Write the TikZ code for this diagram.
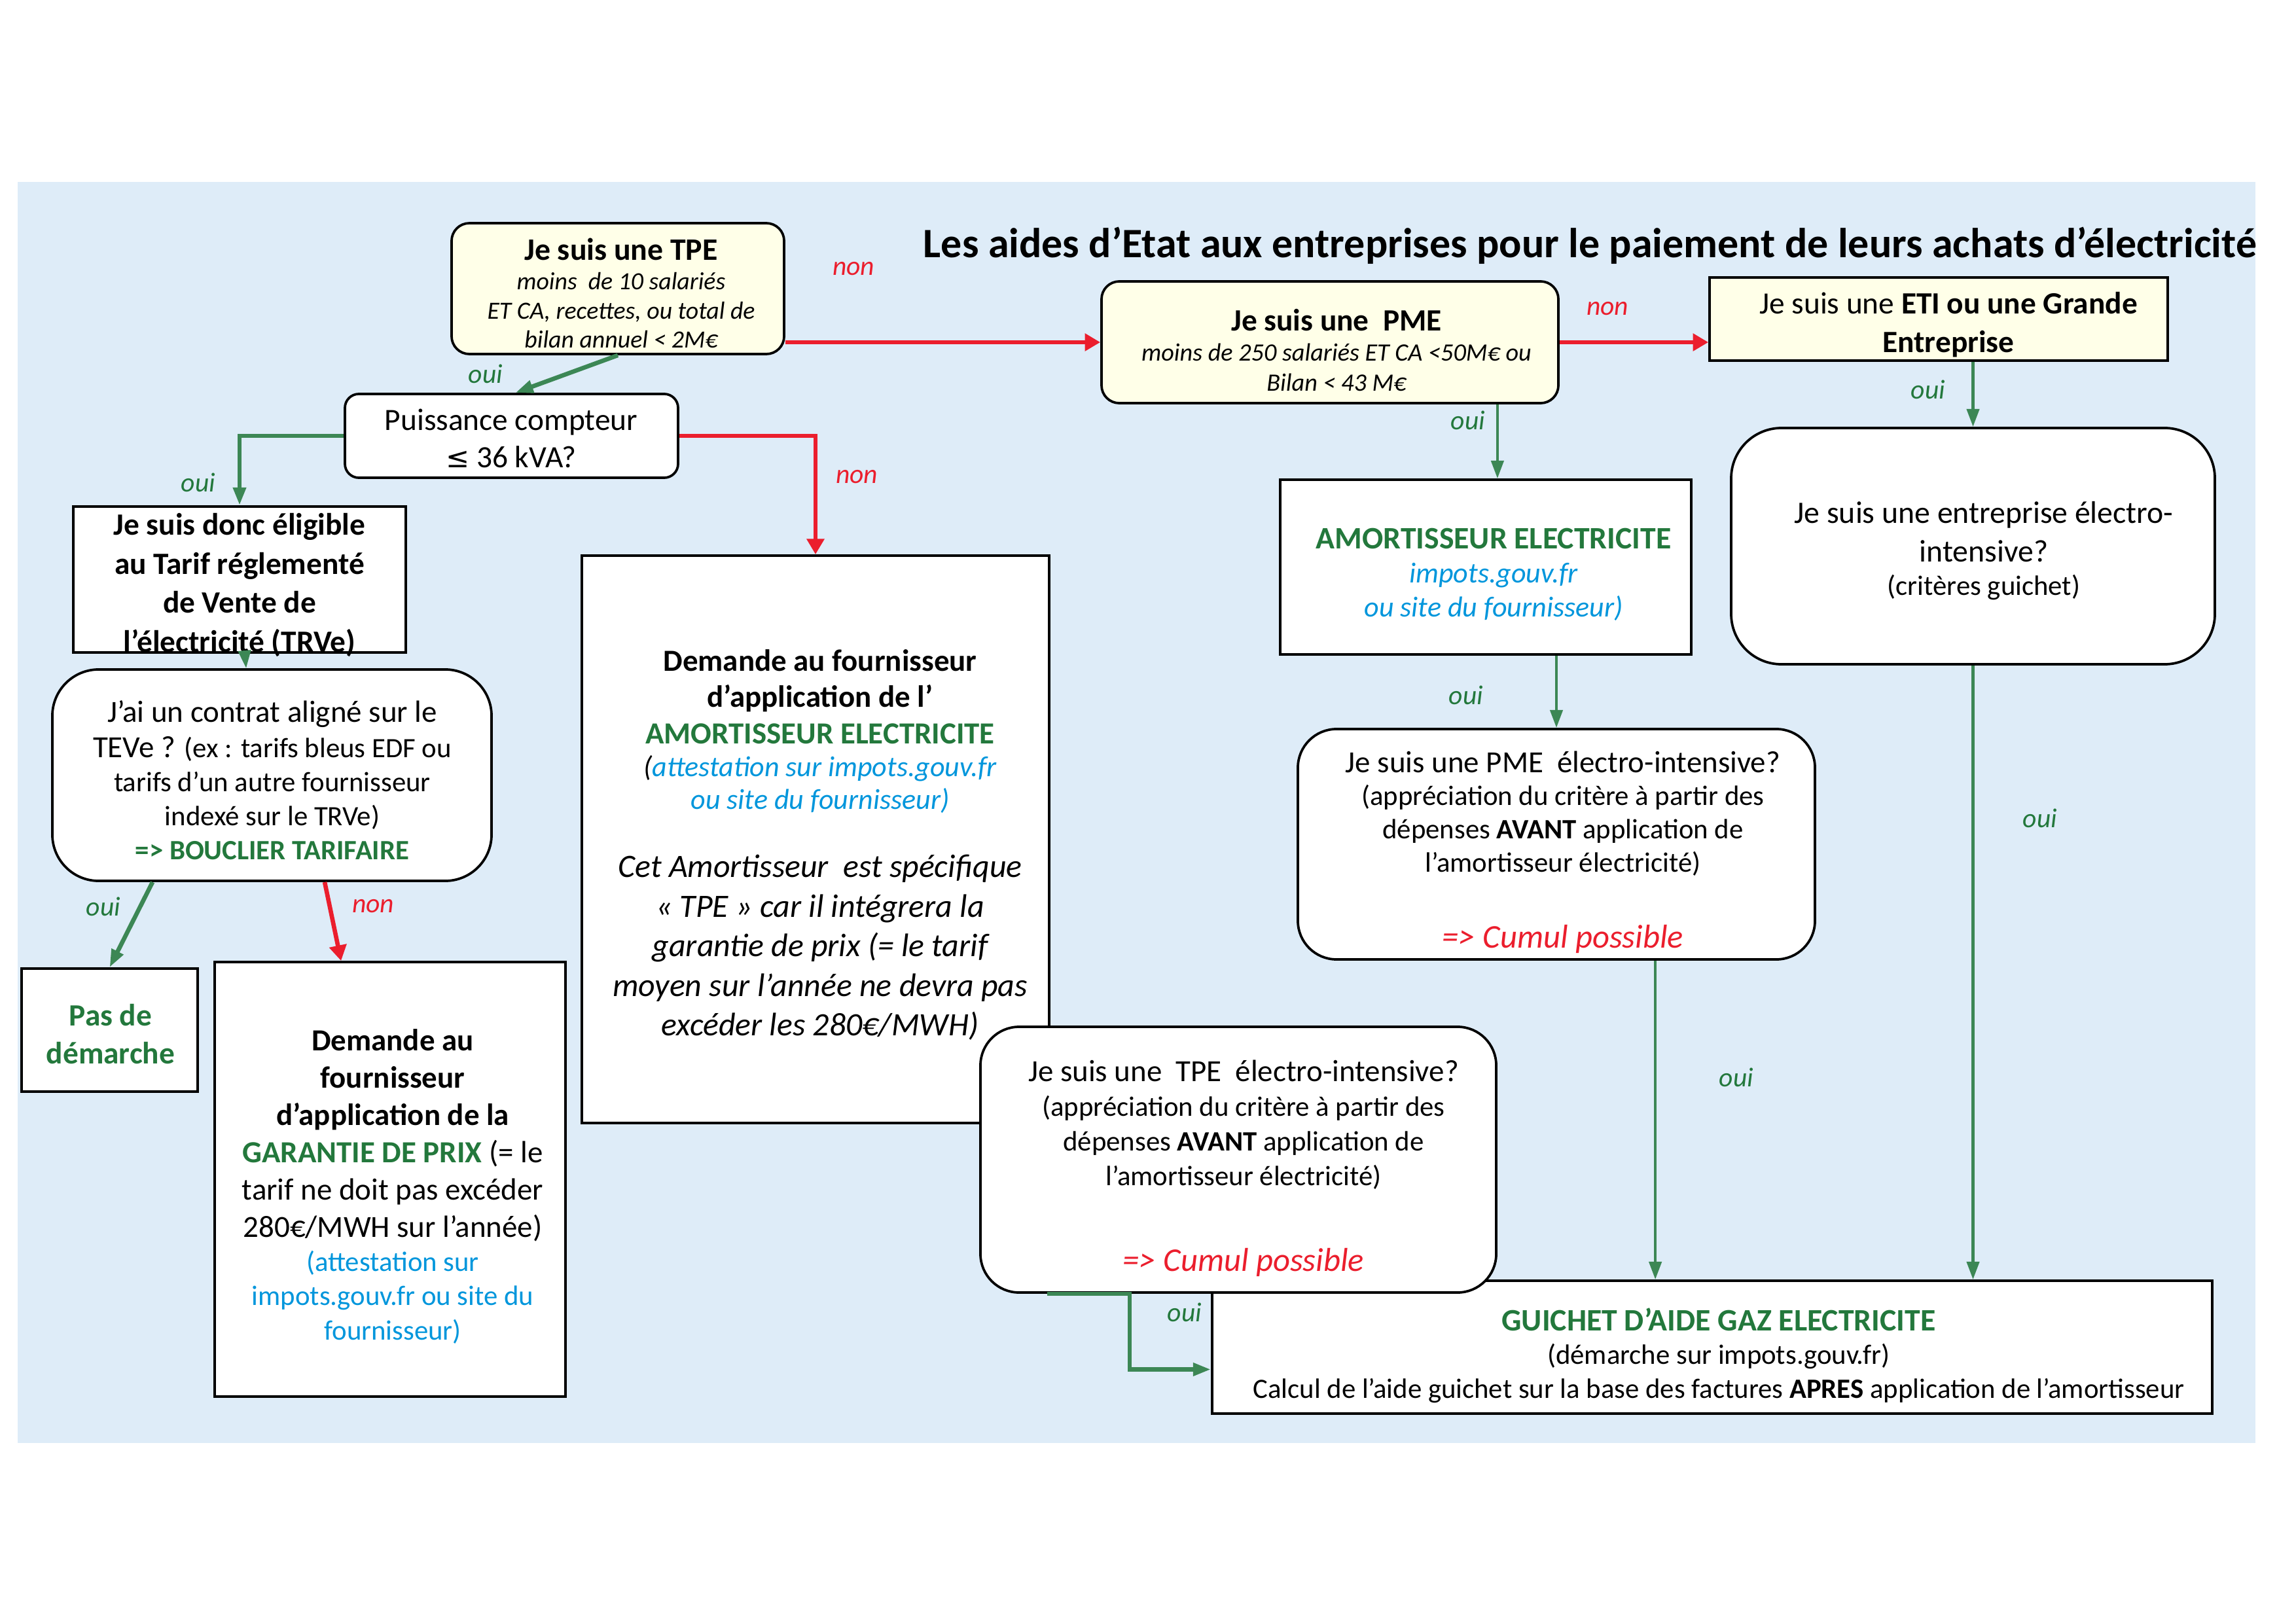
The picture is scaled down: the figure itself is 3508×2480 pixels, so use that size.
\documentclass[tikz,border=0pt]{standalone}
\usepackage{fontspec}
\setmainfont{Carlito}
\newfontfamily\dejavu{DejaVu Sans}
\usetikzlibrary{arrows.meta,calc}
\definecolor{bgblue}{RGB}{222,236,248}
\definecolor{cream}{RGB}{255,255,232}
\definecolor{ggreen}{RGB}{60,135,85}
\definecolor{tgreen}{RGB}{35,120,60}
\definecolor{rred}{RGB}{235,30,45}
\definecolor{tblue}{RGB}{0,150,220}
\begin{document}
\begin{tikzpicture}[x=0.08466mm,y=-0.08466mm,
  cbox/.style={draw=black,line width=0.9pt,fill=white,inner sep=0pt},
  ybox/.style={cbox,fill=cream},
  txt/.style={inner sep=0pt,align=flush center},
  garrow/.style={draw=ggreen,line width=1.1pt,-{Triangle[length=2.3mm,width=1.6mm]}},
  gthick/.style={garrow,line width=1.6pt},
  rarrow/.style={draw=rred,line width=1.6pt,-{Triangle[length=2mm,width=2.2mm]}},
  oui/.style={font=\fontsize{10}{12}\selectfont\itshape,text=tgreen,inner sep=0pt},
  non/.style={font=\fontsize{10}{12}\selectfont\itshape,text=rred,inner sep=0pt}]
\useasboundingbox (0,0) rectangle (3508,2480);
\fill[white] (0,0) rectangle (3508,2480);
\fill[bgblue] (27,278) rectangle (3446,2205);

% title
\node[anchor=base west,inner sep=0pt,font=\fontsize{15.4}{18}\selectfont\bfseries] (title) at (1410,393)
  {Les aides d’Etat aux entreprises pour le paiement de leurs achats d’électricité};

% TPE
\node[ybox,rounded corners=2.3mm,minimum width=43.01mm,minimum height=16.93mm] (tpe) at (944,441) {};
\node[txt,text width=41mm] (tpe-t) at (949,448)
  {\fontsize{11.5}{13}\selectfont\bfseries Je suis une TPE\par
   \fontsize{9.1}{10.8}\selectfont\mdseries\itshape moins\ \ de 10 salariés\\ ET CA, recettes, ou total de\\ bilan annuel < 2M€\par};

% Puissance
\node[cbox,rounded corners=1.8mm,minimum width=43.09mm,minimum height=10.84mm] (puiss) at (781.5,666) {};
\node[txt,text width=41mm] (puiss-t) at (781,670)
  {\fontsize{11.4}{13.8}\selectfont Puissance compteur\\ {\dejavu\fontsize{10.4}{13.8}\selectfont ≤} 36 kVA?\par};

% TRVe
\node[cbox,minimum width=43.01mm,minimum height=18.88mm] (trve) at (366,885.5) {};
\node[txt,text width=42mm] (trve-t) at (366,894)
  {\fontsize{11.4}{14.4}\selectfont\bfseries Je suis donc éligible\\ au Tarif réglementé\\ de Vente de\\ l’électricité (TRVe)\par};

% Contrat
\node[cbox,rounded corners=6mm,minimum width=56.81mm,minimum height=27.35mm] (contrat) at (415.5,1184.5) {};
\node[txt,text width=55mm] (contrat-t) at (416,1192)
  {\fontsize{11.3}{13}\selectfont J’ai un contrat aligné sur le\par
   \fontsize{11.3}{13}\selectfont TEVe ? {\fontsize{10.3}{12.5}\selectfont (ex : tarifs bleus EDF ou}\par
   \fontsize{10.3}{12.5}\selectfont tarifs d’un autre fournisseur\\ indexé sur le TRVe)\\
   \bfseries\color{tgreen} => BOUCLIER TARIFAIRE\par};

% Pas de demarche
\node[cbox,minimum width=22.77mm,minimum height=15.92mm] (pas) at (167.5,1574) {};
\node[txt,text width=21mm] (pas-t) at (169,1580)
  {\fontsize{11.4}{14}\selectfont\bfseries\color{tgreen} Pas de\\ démarche\par};

% Garantie
\node[cbox,minimum width=45.38mm,minimum height=56.21mm] (garantie) at (596,1802) {};
\node[txt,text width=44mm] (garantie-t) at (600,1813)
  {\fontsize{11.3}{13.7}\selectfont\bfseries Demande au\\ fournisseur\\ d’application de la\\
   {\color{tgreen}GARANTIE DE PRIX} \mdseries(= le\\ tarif ne doit pas excéder\\ 280€/MWH sur l’année)\par
   \fontsize{10.3}{12.6}\selectfont\color{tblue} (attestation sur\\ impots.gouv.fr ou site du\\ fournisseur)\par};

% Demande amortisseur
\node[cbox,minimum width=60.45mm,minimum height=73.40mm] (demande) at (1246,1282.5) {};
\node[txt,text width=59mm] (demande-t) at (1253,1291)
  {\fontsize{11.3}{13.4}\selectfont\bfseries Demande au fournisseur\\ d’application de l’\\
   {\color{tgreen}AMORTISSEUR ELECTRICITE}\par
   \fontsize{10.6}{12}\selectfont\mdseries\itshape (\textcolor{tblue}{attestation sur impots.gouv.fr}\\
   \textcolor{tblue}{ou site du fournisseur)}\par\vspace{3.7mm}
   \fontsize{12}{14.6}\selectfont Cet Amortisseur\ \ est spécifique\\ « TPE » car il intégrera la\\
   garantie de prix (= le tarif\\ moyen sur l’année ne devra pas\\ excéder les 280€/MWH)\par};

% Guichet
\node[cbox,minimum width=129.36mm,minimum height=17.19mm] (guichet) at (2616,2058.5) {};
\node[txt,text width=128mm] (guichet-t) at (2626,2071)
  {\fontsize{11.5}{13}\selectfont\bfseries\color{tgreen} GUICHET D’AIDE GAZ ELECTRICITE\par
   \fontsize{10.3}{12.4}\selectfont\mdseries\color{black} (démarche sur impots.gouv.fr)\\
   Calcul de l’aide guichet sur la base des factures \textbf{APRES} application de l’amortisseur\par};

% TPE electro-intensive
\node[cbox,rounded corners=5mm,minimum width=66.71mm,minimum height=34.37mm] (tpee) at (1892,1772) {};
\node[txt,text width=64mm] (tpee-t) at (1900,1785)
  {\fontsize{11.3}{13.5}\selectfont Je suis une\ \ TPE\ \ électro-intensive?\par
   \fontsize{10.3}{12.8}\selectfont (appréciation du critère à partir des\\
   dépenses \textbf{AVANT} application de\\ l’amortisseur électricité)\par\vspace{6.1mm}
   \fontsize{12.2}{14}\selectfont\itshape\color{rred} => Cumul possible\par};

% PME
\node[ybox,rounded corners=2.3mm,minimum width=59.09mm,minimum height=15.75mm] (pme) at (2032,523) {};
\node[txt,text width=57mm] (pme-t) at (2042,535)
  {\fontsize{11.4}{13}\selectfont\bfseries Je suis une\ \ PME\par
   \fontsize{9.2}{11}\selectfont\mdseries\itshape moins de 250 salariés ET CA <50M€ ou\\ Bilan < 43 M€\par};

% ETI
\node[ybox,minimum width=59.26mm,minimum height=10.75mm] (eti) at (2962,487.5) {};
\node[txt,text width=57mm] (eti-t) at (2977,496)
  {\fontsize{11.4}{14.2}\selectfont Je suis une \textbf{ETI ou une Grande}\\ \textbf{Entreprise}\par};

% Amortisseur
\node[cbox,minimum width=53.17mm,minimum height=22.60mm] (amort) at (2270,866.5) {};
\node[txt,text width=51mm] (amort-t) at (2282,878)
  {\fontsize{11.5}{13.5}\selectfont\bfseries\color{tgreen} AMORTISSEUR ELECTRICITE\par
   \fontsize{10.6}{12.5}\selectfont\mdseries\itshape\color{tblue} impots.gouv.fr\\ ou site du fournisseur)\par};

% PME electro-intensive
\node[cbox,rounded corners=5mm,minimum width=66.88mm,minimum height=29.80mm] (pmee) at (2378,1290) {};
\node[txt,text width=64mm] (pmee-t) at (2388,1302)
  {\fontsize{11.3}{13.3}\selectfont Je suis une PME\ \ électro-intensive?\par
   \fontsize{10.3}{12.2}\selectfont (appréciation du critère à partir des\\
   dépenses \textbf{AVANT} application de\\ l’amortisseur électricité)\par\vspace{4.9mm}
   \fontsize{12.2}{14}\selectfont\itshape\color{rred} => Cumul possible\par};

% Entreprise electro-intensive
\node[cbox,rounded corners=6.5mm,minimum width=62.56mm,minimum height=30.56mm] (ent) at (3014.5,834.5) {};
\node[txt,text width=60mm] (ent-t) at (3031,842)
  {\fontsize{11.5}{14}\selectfont Je suis une entreprise électro-\\ intensive?\par
   \fontsize{10.3}{12.5}\selectfont (critères guichet)\par};

% connectors
\draw[rarrow] (tpe.east |- pme.west) -- (pme.west);
\draw[gthick] (tpe.south) -- ($(puiss.north)+(6,0)$);
\draw[gthick] (puiss.west) -| (trve.north);
\draw[rarrow] (puiss.east) -| (demande.north);
\draw[garrow] ($(trve.south)+(8,0)$) -- ($(contrat.north west)+(298,0)$);
\draw[gthick] ($(contrat.south west)+(155,0)$) -- (pas.north);
\draw[rarrow] ($(contrat.south west)+(418,0)$) -- ($(garantie.north west)+(195,0)$);
\draw[rarrow] (pme.east) -- (pme.east -| eti.west);
\draw[garrow] ($(pme.south east)+(-95,0)$) coordinate (pmeout) -- (pmeout |- amort.north);
\draw[garrow] (ent.north |- eti.south) -- (ent.north);
\draw[garrow] (pmee.north |- amort.south) -- (pmee.north);
\draw[garrow] ($(pmee.south west)+(548,0)$) coordinate (pmeeout) -- (pmeeout |- guichet.north);
\draw[garrow] (ent.south) -- (ent.south |- guichet.north);
\draw[gthick] ($(tpee.south west)+(104,0)$) -- ++(126,0) |- ($(guichet.west)+(0,34)$);

% labels
\node[non] (l1) at (1304,411) {non};
\node[oui] (l2) at (742,571) {oui};
\node[oui] (l3) at (303,737) {oui};
\node[non] (l4) at (1309,729) {non};
\node[oui] (l5) at (158,1385) {oui};
\node[non] (l6) at (570,1385) {non};
\node[non] (l7) at (2456,472) {non};
\node[oui] (l8) at (2243,642) {oui};
\node[oui] (l9) at (2946,595) {oui};
\node[oui] (l10) at (2240,1062) {oui};
\node[oui] (l11) at (2653,1646) {oui};
\node[oui] (l12) at (3117,1250) {oui};
\node[oui] (l13) at (1810,2005) {oui};
\end{tikzpicture}
\end{document}
